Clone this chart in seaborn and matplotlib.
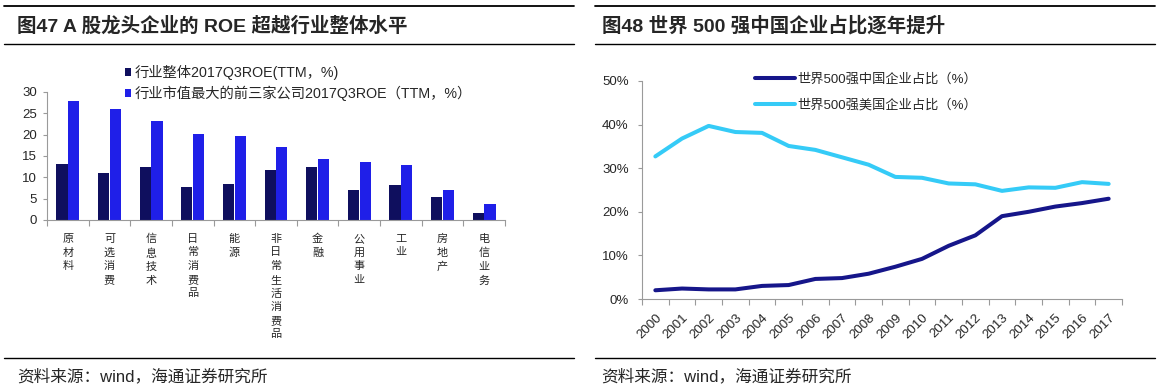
import numpy as np
import pandas as pd
import seaborn as sns
import matplotlib.pyplot as plt
from matplotlib.lines import Line2D

# ---- data: left chart (ROE by industry) ----
industries = ['原材料', '可选消费', '信息技术', '日常消费品', '能源', '非日常生活消费品',
              '金融', '公用事业', '工业', '房地产', '电信业务']
roe_industry = [13.1, 11.0, 12.5, 7.8, 8.5, 11.7, 12.4, 7.0, 8.3, 5.3, 1.6]
roe_top3 = [27.9, 26.0, 23.3, 20.1, 19.7, 17.1, 14.3, 13.5, 12.9, 7.1, 3.8]
label_industry = '行业整体2017Q3ROE(TTM，%)'
label_top3 = '行业市值最大的前三家公司2017Q3ROE（TTM，%）'

# ---- data: right chart (Fortune Global 500 share) ----
years = [str(y) for y in range(2000, 2018)]
china_share = [2.0, 2.4, 2.2, 2.2, 3.0, 3.2, 4.6, 4.8, 5.8, 7.4, 9.2, 12.2, 14.6,
               19.0, 20.0, 21.2, 22.0, 23.0]
us_share = [32.7, 36.8, 39.7, 38.3, 38.1, 35.1, 34.2, 32.5, 30.8, 28.0, 27.8, 26.5,
            26.3, 24.8, 25.6, 25.5, 26.8, 26.4]
label_china = '世界500强中国企业占比（%）'
label_us = '世界500强美国企业占比（%）'

sns.set_style('white')
plt.rcParams['font.family'] = ['Liberation Sans', 'Noto Sans CJK SC', 'DejaVu Sans']

W, H = 1158, 387
fig = plt.figure(figsize=(W / 100, H / 100), dpi=100)


def fx(px):
    return px / W


def fy(py):
    return 1 - py / H


def hline(x0, x1, y, lw=1.3):
    fig.add_artist(Line2D([fx(x0), fx(x1)], [fy(y), fy(y)], color='black', lw=lw,
                          transform=fig.transFigure))


# frame rules and titles
for x0, x1 in [(4, 574), (595, 1155)]:
    hline(x0, x1, 6)
    hline(x0, x1, 44, lw=1.0)
    hline(x0, x1, 358, lw=1.0)

fig.text(fx(17), fy(26), '图47 A 股龙头企业的 ROE 超越行业整体水平', fontsize=14,
         fontweight='bold', va='center', ha='left')
fig.text(fx(602), fy(26), '图48 世界 500 强中国企业占比逐年提升', fontsize=14,
         fontweight='bold', va='center', ha='left')
fig.text(fx(17), fy(376), '资料来源：wind，海通证券研究所', fontsize=12, va='center', ha='left')
fig.text(fx(601), fy(376), '资料来源：wind，海通证券研究所', fontsize=12, va='center', ha='left')

spine_c = '#9a9a9a'

# ---- left bar chart ----
ax1 = fig.add_axes([fx(47), fy(220), fx(458), 128 / H])
df1 = pd.DataFrame({
    'industry': industries * 2,
    'roe': roe_industry + roe_top3,
    'series': [label_industry] * len(industries) + [label_top3] * len(industries),
})
sns.barplot(data=df1, x='industry', y='roe', hue='series', ax=ax1,
            palette=['#0f0f5e', '#1f1fe8'], width=0.56, gap=0.04,
            saturation=1, linewidth=0)
ax1.set_ylim(0, 30)
ax1.set_xlim(-0.5, len(industries) - 0.5)
ax1.set_yticks(range(0, 31, 5))
ax1.set_xticks(np.arange(-0.5, len(industries), 1))
ax1.set_xticklabels([])
ax1.set_xticks(range(len(industries)), minor=True)
ax1.set_xticklabels(['\n'.join(s) for s in industries], minor=True, fontsize=8,
                    va='top', linespacing=1.45)
ax1.tick_params(axis='x', which='major', length=4, color=spine_c, direction='out', bottom=True)
ax1.tick_params(axis='x', which='minor', length=0, pad=10)
ax1.tick_params(axis='y', length=3, color=spine_c, direction='out', left=True,
                labelsize=9.5, pad=4)
ax1.set_xlabel('')
ax1.set_ylabel('')
for s in ['top', 'right']:
    ax1.spines[s].set_visible(False)
for s in ['left', 'bottom']:
    ax1.spines[s].set_color(spine_c)
h, l = ax1.get_legend_handles_labels()
ax1.legend(h, l, loc='upper left', bbox_to_anchor=(fx(125), fy(65)),
           bbox_transform=fig.transFigure, frameon=False, fontsize=10.3,
           handlelength=0.45, handleheight=0.45, handletextpad=0.25, labelspacing=0.4,
           borderpad=0, borderaxespad=0)

# ---- right line chart ----
ax2 = fig.add_axes([fx(642), fy(299), fx(480), 218 / H])
df2 = pd.DataFrame({
    'year': years * 2,
    'share': china_share + us_share,
    'series': [label_china] * len(years) + [label_us] * len(years),
})
df2['pos'] = list(range(len(years))) * 2
sns.lineplot(data=df2, x='pos', y='share', hue='series', ax=ax2,
             palette=['#16168a', '#35cbf7'], linewidth=2.9, sort=False)
ax2.set_ylim(0, 50)
ax2.set_xlim(-0.5, len(years) - 0.5)
ax2.set_yticks(range(0, 51, 10))
ax2.set_yticklabels([f'{v}%' for v in range(0, 51, 10)])
ax2.set_xticks(np.arange(-0.5, len(years), 1))
ax2.set_xticklabels([])
ax2.set_xticks(range(len(years)), minor=True)
ax2.set_xticklabels(years, minor=True, rotation=45, ha='right', va='top',
                    rotation_mode='anchor', fontsize=9.5)
ax2.tick_params(axis='x', which='major', length=4, color=spine_c, direction='out', bottom=True)
ax2.tick_params(axis='x', which='minor', length=0, pad=9)
ax2.tick_params(axis='y', length=3, color=spine_c, direction='out', left=True,
                labelsize=9.5, pad=6.5)
ax2.set_xlabel('')
ax2.set_ylabel('')
for s in ['top', 'right']:
    ax2.spines[s].set_visible(False)
for s in ['left', 'bottom']:
    ax2.spines[s].set_color(spine_c)
h, l = ax2.get_legend_handles_labels()
ax2.legend(h, l, loc='upper left', bbox_to_anchor=(fx(755), fy(73)),
           bbox_transform=fig.transFigure, frameon=False, fontsize=9.5,
           handlelength=3.0, handletextpad=0.2, labelspacing=1.05,
           borderpad=0, borderaxespad=0)

fig.savefig('out.png', dpi=100)
